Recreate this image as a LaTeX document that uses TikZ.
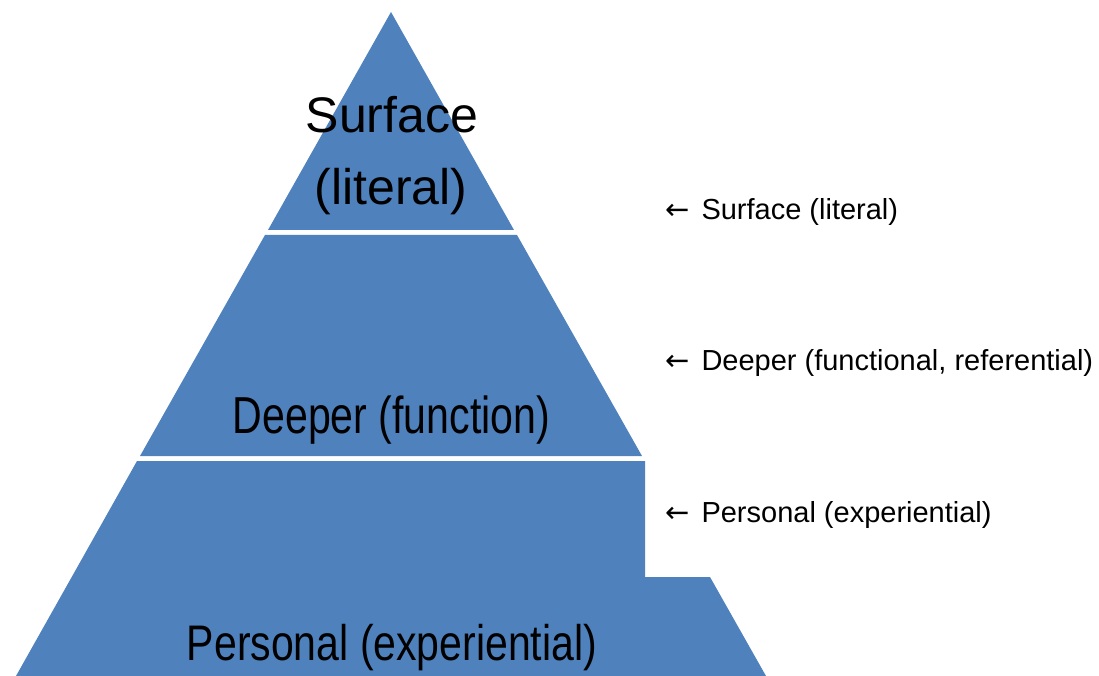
\documentclass[tikz,border=0pt]{standalone}
\usepackage{fontspec}
\setmainfont{Liberation Sans}
\newfontfamily\arrowfont{DejaVu Sans}
\usepackage{graphicx}
\definecolor{layerblue}{HTML}{4F81BD}
\newcommand{\leftarr}{{\arrowfont ←}\hspace{12pt}}
\begin{document}
\begin{tikzpicture}[x=1pt,y=-1pt,
  layer/.style={fill=layerblue,draw=none},
  big/.style={font=\fontsize{50}{60}\selectfont, anchor=base, inner sep=0pt},
  note/.style={font=\fontsize{29}{34}\selectfont, anchor=base west, inner sep=0pt}]
\useasboundingbox (0,0) rectangle (1099,676);

% the three layers of the pyramid
\fill[layer] (391,12) -- (514,230) -- (268,230) -- cycle;
\fill[layer] (265,235) -- (517,235) -- (642,456) -- (140,456) -- cycle;
\fill[layer] (137,461) -- (645,461) -- (645,577) -- (710,577) -- (766,676) -- (16,676) -- cycle;

% layer titles
\node[big] (surface) at (392,133) {Surface};
\node[big] (literal) at (391,205) {(literal)};
\node[big, font=\fontsize{52}{60}\selectfont] (deeper) at (391.5,433) {\scalebox{0.79}[1]{Deeper (function)}};
\node[big] (personal) at (392,660) {\scalebox{0.82}[1]{Personal (experiential)}};

% side notes
\node[note] (nsurface) at (665,219) {\leftarr Surface (literal)};
\node[note] (ndeeper) at (665,370) {\leftarr Deeper (functional, referential)};
\node[note] (npersonal) at (665,522) {\leftarr Personal (experiential)};
\end{tikzpicture}
\end{document}
